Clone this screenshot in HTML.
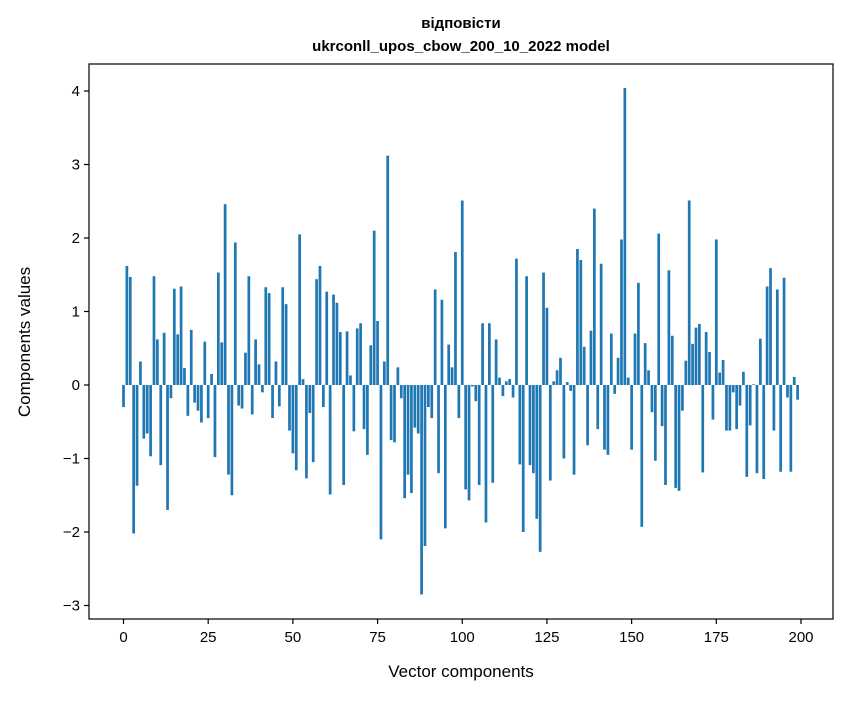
<!DOCTYPE html>
<html><head><meta charset="utf-8"><style>
body{margin:0;background:#fff;}
svg text{font-family:"Liberation Sans","DejaVu Sans",sans-serif;fill:#000;}
</style></head><body>
<svg id="chart" width="847" height="696" xmlns="http://www.w3.org/2000/svg">
<rect width="847" height="696" fill="#fff"/>
<text x="461" y="28" text-anchor="middle" font-size="15" font-weight="bold">відповісти</text>
<text x="461" y="51" text-anchor="middle" font-size="15" font-weight="bold">ukrconll_upos_cbow_200_10_2022 model</text>
<g id="bars"></g>
<g id="axes"></g>
<text x="461" y="677" text-anchor="middle" font-size="17">Vector components</text>
<text transform="translate(30,342) rotate(-90)" text-anchor="middle" font-size="17">Components values</text>
</svg>
<script>
const values = [-0.3,1.62,1.47,-2.02,-1.37,0.32,-0.73,-0.66,-0.97,1.48,0.62,-1.09,0.71,-1.7,-0.18,1.31,0.69,1.34,0.23,-0.42,
0.75,-0.24,-0.35,-0.51,0.59,-0.45,0.15,-0.98,1.53,0.58,2.46,-1.22,-1.5,1.94,-0.28,-0.32,0.44,1.48,-0.4,0.62,
0.28,-0.1,1.33,1.25,-0.45,0.32,-0.29,1.33,1.1,-0.62,-0.93,-1.16,2.05,0.08,-1.27,-0.38,-1.05,1.44,1.62,-0.3,
1.27,-1.49,1.23,1.12,0.72,-1.36,0.73,0.13,-0.63,0.77,0.84,-0.6,-0.95,0.54,2.1,0.87,-2.1,0.32,3.12,-0.75,
-0.78,0.24,-0.18,-1.54,-1.22,-1.47,-0.58,-0.66,-2.85,-2.19,-0.3,-0.45,1.3,-1.2,1.16,-1.95,0.55,0.24,1.81,-0.45,
2.51,-1.42,-1.57,-0.02,-0.22,-1.36,0.84,-1.87,0.84,-1.33,0.62,0.1,-0.15,0.05,0.08,-0.17,1.72,-1.08,-2.0,1.48,
-1.09,-1.2,-1.82,-2.27,1.53,1.05,-1.3,0.05,0.2,0.37,-1.0,0.04,-0.08,-1.22,1.85,1.7,0.52,-0.82,0.74,2.4,
-0.6,1.65,-0.88,-0.95,0.7,-0.12,0.37,1.98,4.04,0.1,-0.88,0.7,1.39,-1.93,0.57,0.2,-0.37,-1.03,2.06,-0.56,
-1.36,1.56,0.67,-1.4,-1.44,-0.35,0.33,2.51,0.56,0.78,0.83,-1.19,0.72,0.45,-0.47,1.98,0.17,0.34,-0.62,-0.62,
-0.1,-0.6,-0.28,0.18,-1.25,-0.55,0.01,-1.2,0.63,-1.28,1.34,1.59,-0.62,1.3,-1.18,1.46,-0.17,-1.18,0.11,-0.2];
const xTicks = [0,25,50,75,100,125,150,175,200];
const yTicks = [-3,-2,-1,0,1,2,3,4];
const yTickLabels = ["\u22123","\u22122","\u22121","0","1","2","3","4"];

const PL=89, PR=833, PT=64, PB=619;
const X0=123.5, XS=3.3875, Y0=385, YS=73.5;
function xs(v){return X0+v*XS;}
function ys(v){return Y0-v*YS;}
const NS="http://www.w3.org/2000/svg";
const bars=document.getElementById('bars');
values.forEach((v,i)=>{
  const r=document.createElementNS(NS,'rect');
  
  
  const x=xs(i-0.4), w=0.8*XS;
  const y1=ys(Math.max(v,0)), y2=ys(Math.min(v,0));
  r.setAttribute('x',x);r.setAttribute('width',w);
  r.setAttribute('y',y1);r.setAttribute('height',Math.max(y2-y1,0));
  r.setAttribute('fill','#1f77b4');
  bars.appendChild(r);
});
const axes=document.getElementById('axes');
const frame=document.createElementNS(NS,'rect');


frame.setAttribute('x',PL);frame.setAttribute('y',PT);
frame.setAttribute('width',PR-PL);frame.setAttribute('height',PB-PT);
frame.setAttribute('fill','none');frame.setAttribute('stroke','#000');frame.setAttribute('stroke-width','1.2');
axes.appendChild(frame);
xTicks.forEach(t=>{
  const l=document.createElementNS(NS,'line');
  
  
  l.setAttribute('x1',xs(t));l.setAttribute('x2',xs(t));l.setAttribute('y1',PB);l.setAttribute('y2',PB+5);
  l.setAttribute('stroke','#000');l.setAttribute('stroke-width','1.2');
  axes.appendChild(l);
  const tx=document.createElementNS(NS,'text');
  
  
  tx.setAttribute('x',xs(t));tx.setAttribute('y',PB+23);
  tx.setAttribute('text-anchor','middle');tx.setAttribute('font-size','15');
  tx.textContent=t;
  axes.appendChild(tx);
});
yTicks.forEach((t,i)=>{
  const l=document.createElementNS(NS,'line');
  
  
  l.setAttribute('x1',PL-5);l.setAttribute('x2',PL);l.setAttribute('y1',ys(t));l.setAttribute('y2',ys(t));
  l.setAttribute('stroke','#000');l.setAttribute('stroke-width','1.2');
  axes.appendChild(l);
  const tx=document.createElementNS(NS,'text');
  
  
  tx.setAttribute('x',PL-9);tx.setAttribute('y',ys(t)+5);
  tx.setAttribute('text-anchor','end');tx.setAttribute('font-size','15');
  tx.textContent=yTickLabels[i];
  axes.appendChild(tx);
});
</script>
</body></html>
